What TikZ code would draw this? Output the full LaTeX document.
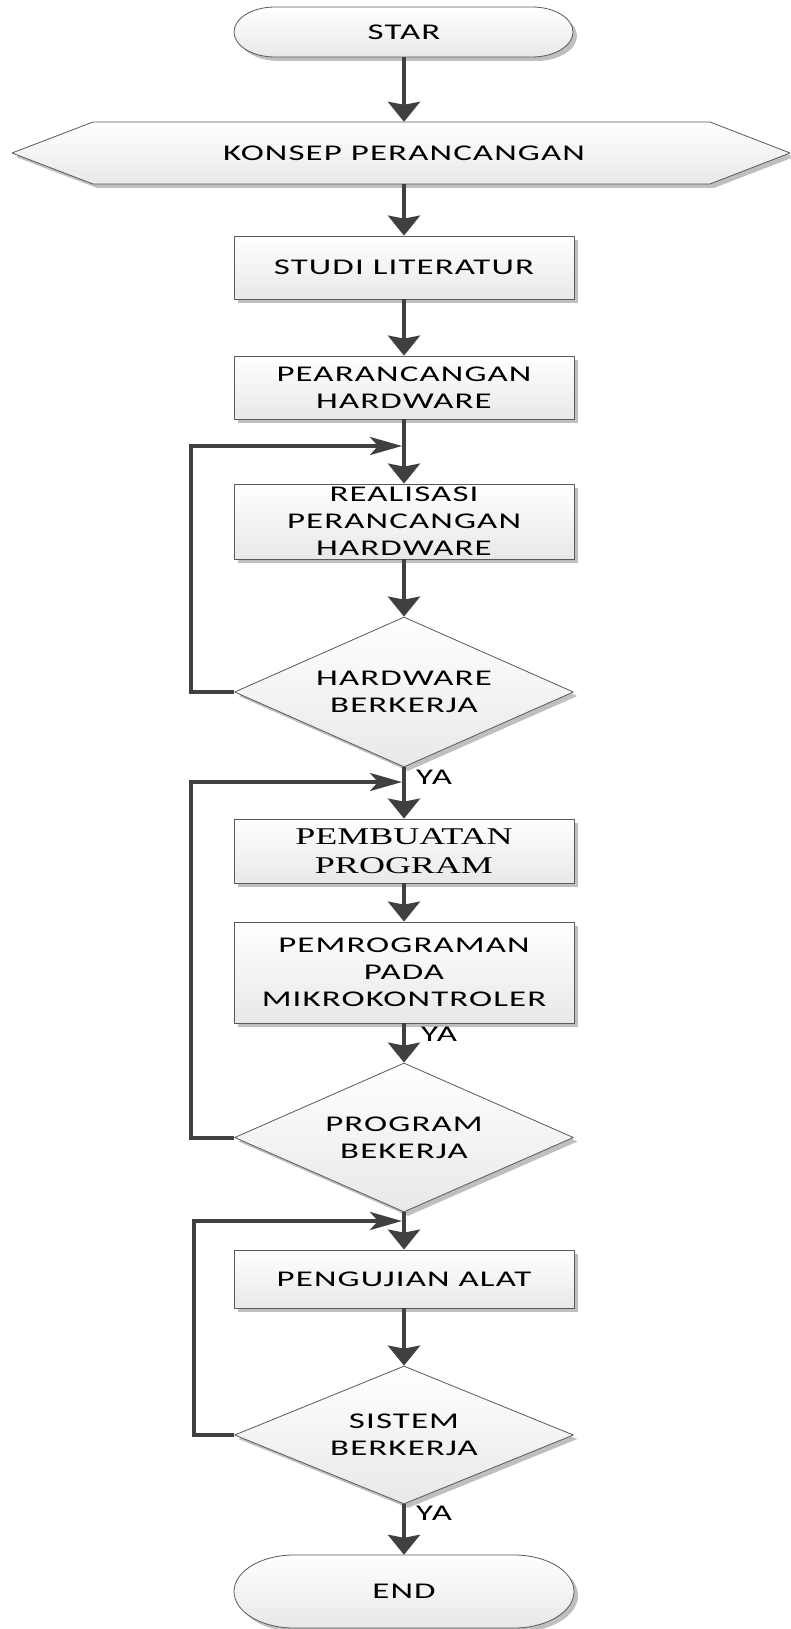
\documentclass[tikz,border=0pt]{standalone}
\usepackage{fontspec}
\usetikzlibrary{arrows.meta,shapes.geometric,shadows}
\newfontfamily\flowfont[FakeStretch=1.55,LetterSpace=5]{Carlito}
\newfontfamily\flowseriffont[FakeStretch=1.5]{Liberation Serif}
\newcommand\flowtext{\flowfont\fontsize{22.5}{27}\selectfont}
\newcommand\flowserif{\flowseriffont\fontsize{24}{29}\selectfont}

\begin{document}
\begin{tikzpicture}[x=1pt,y=-1pt,line join=round,
  flowshape/.style={top color=white, bottom color=black!9, draw=black!65,
    line width=0.8pt,
    drop shadow={shadow xshift=4pt, shadow yshift=-4pt, fill=black!25, opacity=1}},
  procbox/.style={flowshape, rectangle, minimum width=340pt, inner sep=0pt,
    font=\flowtext, align=center},
  decision/.style={flowshape, diamond, inner sep=0pt, minimum width=339pt,
    font=\flowtext, align=center},
  plaintext/.style={font=\flowtext, inner sep=0pt, align=center},
  flowarrow/.style={line width=4pt, draw=black!75,
    -{Stealth[length=20pt,width=32pt,inset=3pt]}},
  looparrow/.style={line width=4pt, draw=black!75, line join=miter,
    -{Stealth[length=32pt,width=18pt,inset=8pt]}},
  yalabel/.style={font=\flowtext, inner sep=0pt, anchor=west}]

\useasboundingbox (0,0) rectangle (790,1629);

% start terminal
\path[flowshape] (275,7) -- (532,7)
  arc[start angle=90,end angle=-90,x radius=41pt,y radius=25pt]
  -- (275,57)
  arc[start angle=270,end angle=90,x radius=41pt,y radius=25pt] -- cycle;
\node[plaintext, minimum width=339pt, minimum height=50pt] (star) at (404,32) {STAR};

% preparation hexagon
\path[flowshape] (12,153) -- (93,122) -- (710,122) -- (790,153)
  -- (710,184) -- (93,184) -- cycle;
\node[plaintext, minimum height=62pt] (hex) at (404,153) {KONSEP PERANCANGAN};

% process steps
\node[procbox, minimum height=63pt] (studi) at (404,267.5) {STUDI LITERATUR};
\node[procbox, minimum height=63pt] (pear) at (404,387.5) {PEARANCANGAN\\HARDWARE};
\node[procbox, minimum height=75pt] (real) at (404,521.5) {REALISASI\\PERANCANGAN\\HARDWARE};
\node[decision, minimum height=150pt, aspect=2.26] (d1) at (404,692) {HARDWARE\\BERKERJA};
\node[procbox, minimum height=64pt, font=\flowserif] (pemb) at (404,851) {PEMBUATAN\\PROGRAM};
\node[procbox, minimum height=101pt] (pemr) at (404,972.5) {PEMROGRAMAN\\PADA\\MIKROKONTROLER};
\node[decision, minimum height=149pt, aspect=2.27] (d2) at (404,1137.5) {PROGRAM\\BEKERJA};
\node[procbox, minimum height=58pt] (uji) at (404,1279) {PENGUJIAN ALAT};
\node[decision, minimum height=138pt, aspect=2.45] (d3) at (404,1435) {SISTEM\\BERKERJA};

% end terminal
\path[flowshape] (294,1555) -- (514,1555)
  arc[start angle=90,end angle=-90,x radius=60pt,y radius=36.5pt]
  -- (294,1628)
  arc[start angle=270,end angle=90,x radius=60pt,y radius=36.5pt] -- cycle;
\node[plaintext, minimum width=340pt, minimum height=73pt] (end) at (404,1591.5) {END};

% junctions where the loops rejoin the main line
\coordinate (j1) at (402,446);
\coordinate (j2) at (402,782);
\coordinate (j3) at (402,1221);

% main flow
\draw[flowarrow] (star.south) -- (hex.north);
\draw[flowarrow] (hex.south) -- (studi.north);
\draw[flowarrow] (studi.south) -- (pear.north);
\draw[flowarrow] (pear.south) -- (real.north);
\draw[flowarrow] (real.south) -- (d1.north);
\draw[flowarrow] (d1.south) -- (pemb.north);
\draw[flowarrow] (pemb.south) -- (pemr.north);
\draw[flowarrow] (pemr.south) -- (d2.north);
\draw[flowarrow] (d2.south) -- (uji.north);
\draw[flowarrow] (uji.south) -- (d3.north);
\draw[flowarrow] (d3.south) -- (end.north);

% loops back on failure
\draw[looparrow] (d1.west) -- ++(-43,0) |- (j1);
\draw[looparrow] (d2.west) -- ++(-43,0) |- (j2);
\draw[looparrow] (d3.west) -- ++(-40,0) |- (j3);

% labels
\node[yalabel] (ya1) at (416,777) {YA};
\node[yalabel] (ya2) at (421,1034) {YA};
\node[yalabel] (ya3) at (416,1513) {YA};

\end{tikzpicture}
\end{document}
